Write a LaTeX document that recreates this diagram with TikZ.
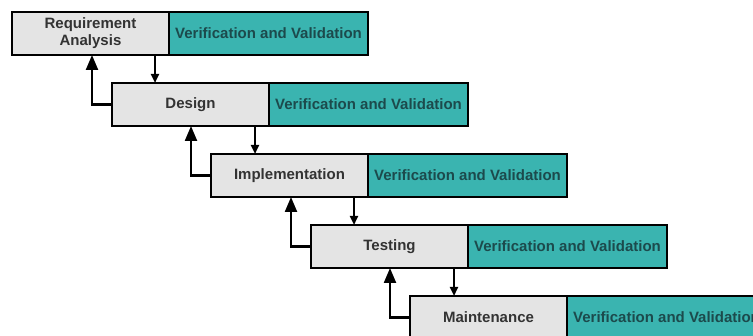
\documentclass[tikz,border=0pt]{standalone}
\usepackage{fontspec}
\setmainfont{Liberation Sans}
\usetikzlibrary{positioning,arrows.meta}
\definecolor{vvteal}{HTML}{3AB4B0}
\definecolor{vvtext}{HTML}{1C4A4C}
\definecolor{stagegrey}{HTML}{E4E4E4}
\tikzset{
  stage/.style={draw, line width=2.2pt, fill=stagegrey, text=black!80,
    font=\fontsize{15}{17}\selectfont\bfseries, align=center,
    minimum width=157pt, minimum height=43pt, inner sep=2pt, outer sep=0pt,
    anchor=north west},
  vv/.style={stage, fill=vvteal, text=vvtext, minimum width=199pt},
  fwd/.style={-{Triangle[length=9pt,width=8pt]}, line width=2.2pt},
  back/.style={-{Triangle[length=15pt,width=12pt]}, line width=2.2pt}
}
\begin{document}
\begin{tikzpicture}[x=1pt,y=-1pt]
  \useasboundingbox (0,0) rectangle (753,336);
  \clip (0,0) rectangle (753,336);

  \node[stage] (req) at (12,12) {Requirement\\Analysis};
  \node[vv, right=0pt of req] (reqvv) {Verification and Validation};
  \node[stage] (des) at (112,83) {Design};
  \node[vv, right=0pt of des] (desvv) {Verification and Validation};
  \node[stage] (imp) at (211,154) {Implementation};
  \node[vv, right=0pt of imp] (impvv) {Verification and Validation};
  \node[stage] (tst) at (311,225) {Testing};
  \node[vv, right=0pt of tst] (tstvv) {Verification and Validation};
  \node[stage] (mnt) at (410,296) {Maintenance};
  \node[vv, right=0pt of mnt] (mntvv) {Verification and Validation};

  % down the cascade
  \draw[fwd] (req.south east) ++(-14pt,0) coordinate (d1) -- (d1 |- des.north);
  \draw[fwd] (des.south east) ++(-14pt,0) coordinate (d2) -- (d2 |- imp.north);
  \draw[fwd] (imp.south east) ++(-14pt,0) coordinate (d3) -- (d3 |- tst.north);
  \draw[fwd] (tst.south east) ++(-14pt,0) coordinate (d4) -- (d4 |- mnt.north);

  % feedback
  \draw[back] (des.west) -- ++(-20pt,0) coordinate (u1) -- (u1 |- req.south);
  \draw[back] (imp.west) -- ++(-20pt,0) coordinate (u2) -- (u2 |- des.south);
  \draw[back] (tst.west) -- ++(-20pt,0) coordinate (u3) -- (u3 |- imp.south);
  \draw[back] (mnt.west) -- ++(-20pt,0) coordinate (u4) -- (u4 |- tst.south);
\end{tikzpicture}
\end{document}
